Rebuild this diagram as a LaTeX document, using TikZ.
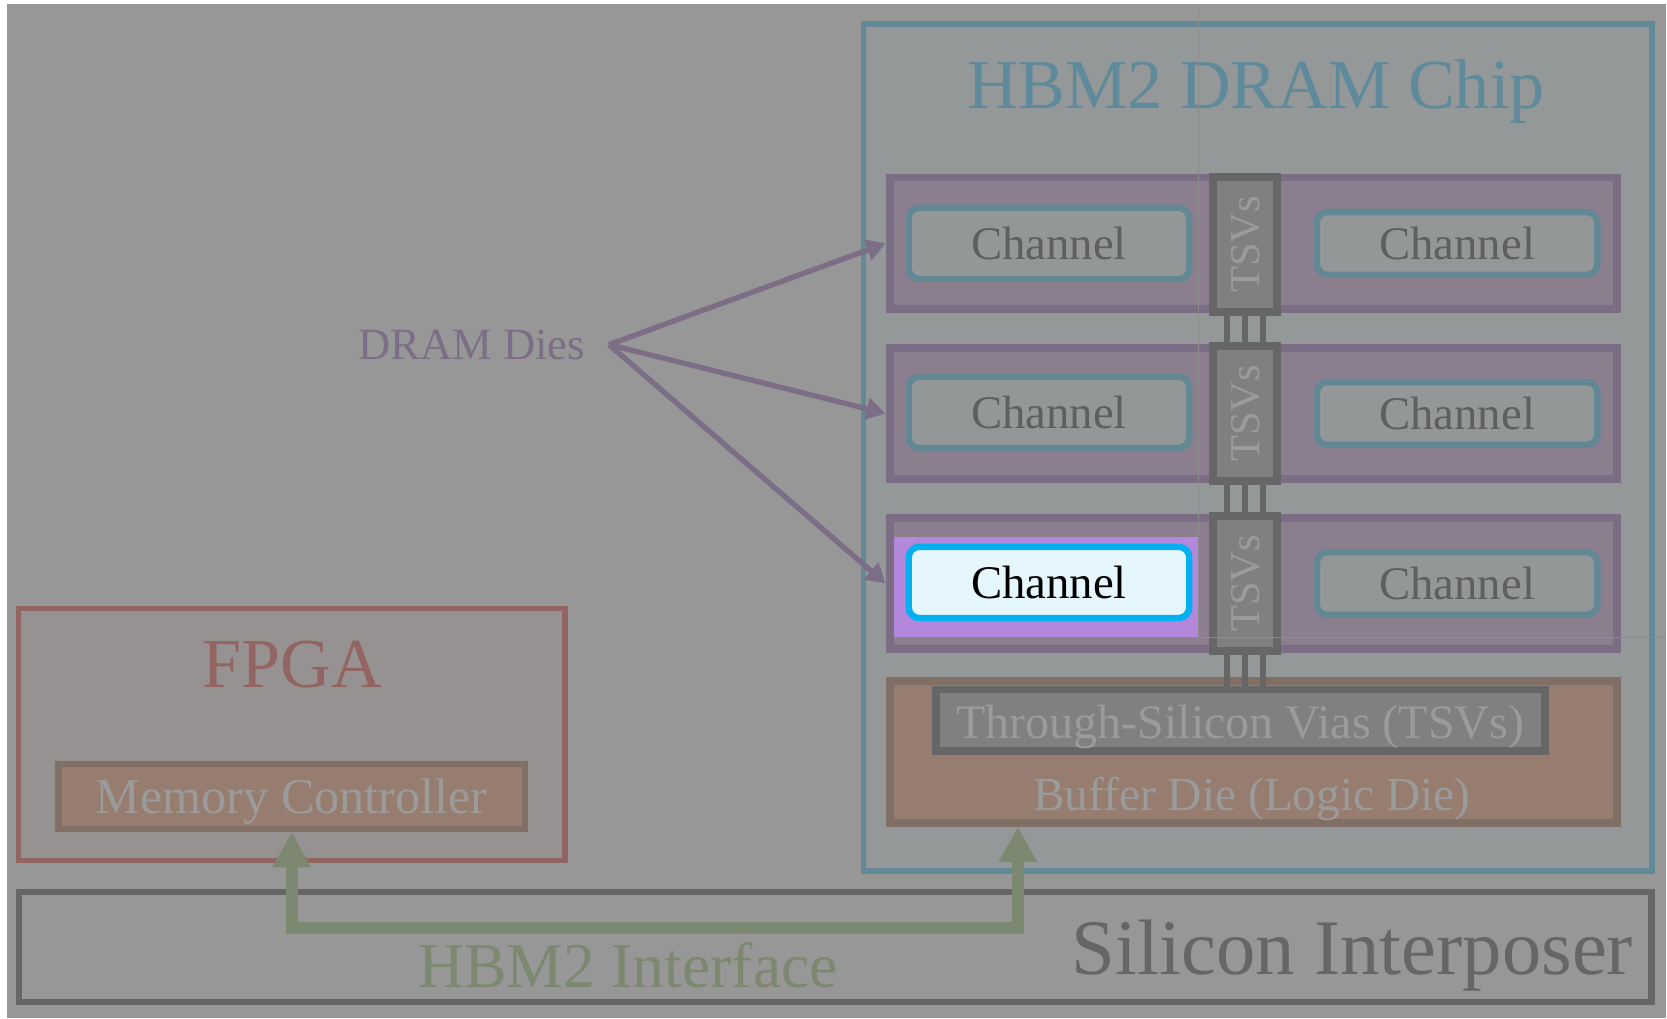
\documentclass[tikz,border=0pt]{standalone}
\usepackage{fontspec}
\setmainfont{Liberation Serif}
\usetikzlibrary{shapes, positioning, arrows.meta, calc}

\newcommand{\txtsize}[1]{\fontsize{#1}{#1}\selectfont}

\definecolor{pagegray}{HTML}{979797}
\definecolor{chipfill}{HTML}{949898}
\definecolor{chipline}{HTML}{628996}
\definecolor{chiptext}{HTML}{5E8A9B}
\definecolor{diefill}{HTML}{8B7F8F}
\definecolor{dieline}{HTML}{7B6E84}
\definecolor{dietext}{HTML}{7B6E86}
\definecolor{chanfill}{HTML}{939797}
\definecolor{chanline}{HTML}{628894}
\definecolor{chantext}{HTML}{5F5F5F}
\definecolor{tsvfill}{HTML}{808080}
\definecolor{tsvline}{HTML}{666666}
\definecolor{lighttext}{HTML}{9B9B9B}
\definecolor{buffill}{HTML}{977D6F}
\definecolor{bufline}{HTML}{806F65}
\definecolor{hlback}{HTML}{B387DB}
\definecolor{hlfill}{HTML}{E6F6FD}
\definecolor{hlline}{HTML}{00B0F0}
\definecolor{fpgafill}{HTML}{969291}
\definecolor{fpgaline}{HTML}{936562}
\definecolor{ifgreen}{HTML}{7C8870}

\begin{document}
\begin{tikzpicture}[
    x = 0.5pt,
    y = -0.5pt,
    box/.style = {rectangle, inner sep = 0pt, text depth = 0pt},
    label text/.style = {inner sep = 0pt},
    die/.style = {box, draw = dieline, fill = diefill, line width = 3.75pt,
                  minimum width = 342pt, minimum height = 62pt},
    chan/.style = {box, draw = chanline, fill = chanfill, line width = 3pt,
                   rounded corners = 5pt, minimum width = 132pt,
                   text = chantext, font = \txtsize{22}},
    tsv/.style = {box, draw = tsvline, fill = tsvfill, line width = 3.5pt,
                  rotate = 90, minimum width = 63.5pt, minimum height = 30pt,
                  text = lighttext, font = \txtsize{20}},
    link/.style = {tsvline, line width = 3pt},
    diearrow/.style = {-{Triangle[length = 9pt, width = 10pt]}, dietext,
                       line width = 2.5pt},
    ifarrow/.style = {{Triangle[length = 16.5pt, width = 17pt]}-{Triangle[length = 16.5pt, width = 17pt]},
                      ifgreen, line width = 5.5pt}
]

% 1. Page and the HBM2 chip outline
\fill[white] (0,0) rectangle (1568,958);
\fill[pagegray] (7,4) rectangle (1568,958);
\node[box, draw = chipline, fill = chipfill, line width = 2.5pt,
      minimum width = 371pt, minimum height = 398.5pt] (chip) at (1183.5, 421) {};
\node[label text, anchor = base, text = chiptext, font = \txtsize{33}] (chip-title) at (1182, 102) {HBM2 DRAM Chip};

% 2. The three DRAM dies with their channels and TSVs
\foreach \i/\y in {1/229, 2/389, 3/549} {
    \node[die] (die-\i) at (1179, \y) {};
    \node[chan, minimum height = 29.5pt] (chr-\i) at (1371, \y) {Channel};
}
\foreach \i/\y in {1/229, 2/388} {
    \node[chan, minimum height = 33.5pt] (chl-\i) at (987, \y) {Channel};
}

% highlighted channel
\node[box, fill = hlback, minimum width = 143pt, minimum height = 47pt] (hl) at (984, 552) {};
\node[chan, minimum height = 33.5pt, draw = hlline, fill = hlfill, text = black] (chl-3) at (987, 548) {Channel};

\foreach \i/\y in {1/230, 2/389, 3/549} {
    \node[tsv] (tsv-\i) at (1171.5, \y) {TSVs};
}

% 3. Buffer die at the bottom of the stack
\node[box, draw = bufline, fill = buffill, line width = 3.75pt,
      minimum width = 342pt, minimum height = 66.75pt] (buf) at (1179, 707.5) {};
\node[box, draw = tsvline, fill = tsvfill, line width = 3.5pt,
      minimum width = 286.5pt, minimum height = 29pt,
      text = lighttext, font = \txtsize{22.6}] (vias) at (1167, 677.5) {\raisebox{-1.5pt}{Through-Silicon Vias (TSVs)}};
\node[label text, anchor = base, text = lighttext, font = \txtsize{22.3}] (buf-label) at (1178, 763) {Buffer Die (Logic Die)};

% vertical TSV links between the dies
\foreach \dx in {-8.5, 0, 8.5} {
    \draw[link] ([xshift = \dx pt]tsv-1.west) -- ([xshift = \dx pt]tsv-2.east);
    \draw[link] ([xshift = \dx pt]tsv-2.west) -- ([xshift = \dx pt]tsv-3.east);
    \draw[link] ([xshift = \dx pt]tsv-3.west) -- ([xshift = \dx pt]vias.north -| tsv-3.center);
}

% 4. DRAM Dies label and arrows
\node[label text, anchor = base east, text = dietext, font = \txtsize{21}] (dram-dies) at (551, 338) {DRAM Dies};
\coordinate (fan) at ([xshift = 11pt]dram-dies.east);
\draw[diearrow] (fan) -- (die-1.west);
\draw[diearrow] (fan) -- (die-2.west);
\draw[diearrow] (fan) -- (die-3.west);

% 5. FPGA and memory controller
\node[box, draw = fpgaline, fill = fpgafill, line width = 2.5pt,
      minimum width = 257pt, minimum height = 118.5pt] (fpga) at (274.5, 691) {};
\node[label text, anchor = base, text = fpgaline, font = \txtsize{33}] (fpga-title) at (275, 647) {FPGA};
\node[box, draw = bufline, fill = buffill, line width = 3pt,
      minimum width = 219.5pt, minimum height = 30.5pt,
      text = lighttext, font = \txtsize{23.6}] (mc) at (274.5, 749.5) {Memory Controller};

% 6. Silicon interposer and the HBM2 interface
\node[box, draw = tsvline, line width = 3pt,
      minimum width = 768pt, minimum height = 52pt] (interposer) at (786, 891) {};
\node[label text, anchor = base east, text = tsvline, font = \txtsize{37}] (interposer-label) at (1537, 917) {Silicon Interposer};
\node[label text, anchor = base, text = ifgreen, font = \txtsize{30}] (hbm-label) at (591, 929) {HBM2 Interface};
\draw[ifarrow] (mc.south) -- ++(0, 90) -| ($(buf.south west)!0.18!(buf.south east)$);

% thin overlay seams
\draw[black!45, line width = 0.5pt] (1128, 4) -- (1128, 600) -- (1568, 600);

\end{tikzpicture}
\end{document}
